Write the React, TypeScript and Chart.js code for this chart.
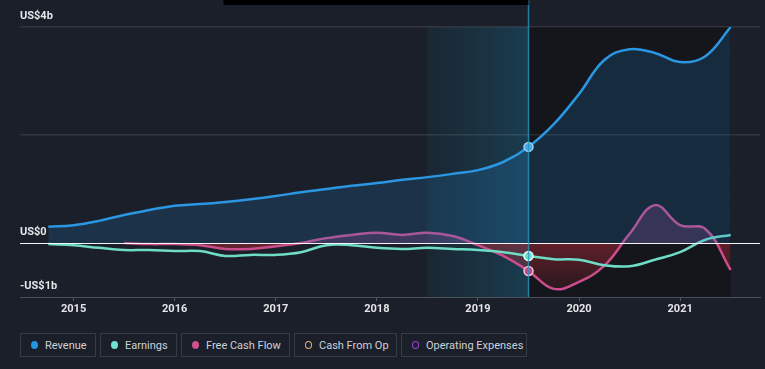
import React, { useEffect, useRef } from "react";
import { Chart, registerables } from "chart.js";

Chart.register(...registerables);

// ---- Data (values in US$ billions) ----
const quarters = [
  2014.75, 2015.0, 2015.25, 2015.5, 2015.75, 2016.0, 2016.25, 2016.5, 2016.75,
  2017.0, 2017.25, 2017.5, 2017.75, 2018.0, 2018.25, 2018.5, 2018.75, 2019.0,
  2019.25, 2019.5, 2019.75, 2020.0, 2020.25, 2020.5, 2020.75, 2021.0, 2021.25, 2021.5,
];
const revenue = [
  0.3, 0.33, 0.41, 0.52, 0.61, 0.69, 0.72, 0.76, 0.81, 0.87, 0.94, 1.0, 1.06, 1.11,
  1.17, 1.22, 1.28, 1.35, 1.5, 1.78, 2.2, 2.76, 3.39, 3.59, 3.52, 3.35, 3.46, 4.0,
];
const earnings = [
  -0.02, -0.04, -0.09, -0.13, -0.13, -0.15, -0.15, -0.24, -0.22, -0.22, -0.17, -0.04,
  -0.04, -0.09, -0.11, -0.09, -0.11, -0.13, -0.17, -0.24, -0.3, -0.31, -0.41, -0.43,
  -0.31, -0.17, 0.06, 0.15,
];
const freeCashFlow = [
  null, null, null, 0.0, -0.02, -0.02, -0.04, -0.11, -0.11, -0.06, 0.0, 0.09, 0.15,
  0.19, 0.15, 0.19, 0.13, -0.04, -0.24, -0.52, -0.85, -0.72, -0.42, 0.17, 0.7, 0.33,
  0.26, -0.5,
];
const yearTicks = [2015, 2016, 2017, 2018, 2019, 2020, 2021];
const yTickValues = [-1, 0, 2, 4];
const yTickLabels: Record<string, string> = { "4": "US$4b", "0": "US$0", "-1": "-US$1b" };
const highlightStart = 2018.5;
const focusDate = 2019.5;
const lastDate = 2021.5;

const legendItems = [
  { label: "Revenue", color: "#2394df", hollow: false, width: 76 },
  { label: "Earnings", color: "#6fe3cc", hollow: false, width: 77 },
  { label: "Free Cash Flow", color: "#d24f8f", hollow: false, width: 109 },
  { label: "Cash From Op", color: "#e6b07a", hollow: true, width: 103 },
  { label: "Operating Expenses", color: "#9a45d8", hollow: true, width: 126 },
];

const BG = "#1b1f29";
const tickFont = { family: "Roboto, 'Open Sans', sans-serif", size: 11, weight: "bold" as const };

const toXY = (vals: (number | null)[]) => quarters.map((q, i) => ({ x: q, y: vals[i] }));
const focusRadius = quarters.map((q) => (q === focusDate ? 4.5 : 0));

const decorPlugin = {
  id: "decor",
  beforeDraw(chart: any) {
    const { ctx, chartArea, scales } = chart;
    const x = scales.x;
    ctx.save();
    ctx.fillStyle = BG;
    ctx.fillRect(0, 0, chart.width, chart.height);
    const xs = x.getPixelForValue(highlightStart);
    const xf = x.getPixelForValue(focusDate);
    const xe = x.getPixelForValue(lastDate);
    ctx.fillStyle = "#14161b";
    ctx.fillRect(xf, chartArea.top, xe - xf, chartArea.bottom - chartArea.top);
    const g = ctx.createLinearGradient(xs, 0, xf, 0);
    g.addColorStop(0, "rgba(22,110,140,0.1)");
    g.addColorStop(1, "rgba(20,130,170,0.3)");
    ctx.fillStyle = g;
    ctx.fillRect(xs, chartArea.top, xf - xs, chartArea.bottom - chartArea.top);
    ctx.restore();
  },
  afterDatasetsDraw(chart: any) {
    const { ctx, chartArea, scales } = chart;
    const y0 = Math.round(scales.y.getPixelForValue(0)) + 0.5;
    ctx.save();
    ctx.strokeStyle = "rgba(255,255,255,0.95)";
    ctx.lineWidth = 1;
    ctx.beginPath();
    ctx.moveTo(chartArea.left, y0);
    ctx.lineTo(chartArea.right, y0);
    ctx.stroke();
    const xf = Math.round(scales.x.getPixelForValue(focusDate)) + 0.5;
    ctx.strokeStyle = "rgba(40,150,190,0.8)";
    ctx.lineWidth = 1.5;
    ctx.beginPath();
    ctx.moveTo(xf, 0);
    ctx.lineTo(xf, chartArea.bottom);
    ctx.stroke();
    ctx.fillStyle = "#000";
    ctx.fillRect(xf - 305, 0, 305, 5);
    ctx.restore();
  },
};

export default function App() {
  const canvasRef = useRef<HTMLCanvasElement | null>(null);

  useEffect(() => {
    const canvas = canvasRef.current;
    if (!canvas) return;
    const chart = new Chart(canvas, {
      type: "line",
      data: {
        datasets: [
          {
            label: "Revenue",
            data: toXY(revenue) as any,
            borderColor: "#2b96e2",
            backgroundColor: "rgba(35,130,205,0.2)",
            fill: "origin",
            borderWidth: 2.5,
            tension: 0.4,
            pointRadius: focusRadius,
            pointHoverRadius: focusRadius,
            pointBackgroundColor: "#4aa8e8",
            pointBorderColor: "#9fd2f5",
            pointBorderWidth: 1.5,
          },
          {
            label: "Earnings",
            data: toXY(earnings) as any,
            borderColor: "#6fdcc6",
            backgroundColor: "#6fdcc6",
            fill: false,
            borderWidth: 2.5,
            tension: 0.4,
            pointRadius: focusRadius,
            pointHoverRadius: focusRadius,
            pointBackgroundColor: "#6fe3cc",
            pointBorderColor: "#e8fffa",
            pointBorderWidth: 1.5,
          },
          {
            label: "Free Cash Flow",
            data: toXY(freeCashFlow) as any,
            borderColor: "#cc4d8c",
            backgroundColor: "#cc4d8c",
            fill: { target: "origin", above: "rgba(190,75,150,0.22)", below: "rgba(170,35,50,0.4)" },
            borderWidth: 2.5,
            tension: 0.4,
            pointRadius: focusRadius,
            pointHoverRadius: focusRadius,
            pointBackgroundColor: "#c04a88",
            pointBorderColor: "#f0c6dc",
            pointBorderWidth: 1.5,
          },
        ],
      },
      options: {
        responsive: false,
        animation: false,
        devicePixelRatio: 1,
        layout: { padding: { left: 20, right: 5, top: 27, bottom: 0 } },
        plugins: { legend: { display: false }, tooltip: { enabled: false } },
        scales: {
          x: {
            type: "linear",
            min: 2014.47,
            max: 2021.79,
            afterBuildTicks: (s: any) => {
              s.ticks = yearTicks.map((v) => ({ value: v }));
            },
            afterFit: (s: any) => {
              s.height = 23;
            },
            grid: { drawOnChartArea: false, drawTicks: true, tickLength: 4, color: "rgba(255,255,255,0.25)" },
            border: { display: true, color: "rgba(255,255,255,0.22)", width: 1 },
            ticks: {
              color: "#e4e6ea",
              font: tickFont,
              padding: 2,
              maxRotation: 0,
              autoSkip: false,
              callback: (v: any) => String(v),
            },
          },
          y: {
            type: "linear",
            min: -1,
            max: 4,
            afterBuildTicks: (s: any) => {
              s.ticks = yTickValues.map((v) => ({ value: v }));
            },
            afterFit: (s: any) => {
              s.width = 0;
            },
            grid: {
              drawTicks: false,
              lineWidth: 1.5,
              color: (c: any) => (c.tick && (c.tick.value === 4 || c.tick.value === 2) ? "rgba(255,255,255,0.1)" : "rgba(0,0,0,0)"),
            },
            border: { display: false },
            ticks: {
              mirror: true,
              padding: 0,
              labelOffset: -11,
              color: "#e4e6ea",
              font: tickFont,
              callback: (v: any) => yTickLabels[String(v)] ?? "",
            },
          },
        },
      },
      plugins: [decorPlugin],
    });
    const ys = chart.scales.y;
    const ctx = canvas.getContext("2d")!;
    const g = ctx.createLinearGradient(0, ys.getPixelForValue(0), 0, ys.getPixelForValue(-1));
    g.addColorStop(0, "rgba(175,40,55,0.5)");
    g.addColorStop(1, "rgba(175,40,55,0.08)");
    (chart.data.datasets[2] as any).fill = { target: "origin", above: "rgba(190,75,150,0.24)", below: g };
    chart.update("none");
    return () => chart.destroy();
  }, []);

  return (
    <div
      style={{
        position: "fixed",
        left: 0,
        top: 0,
        width: 765,
        height: 369,
        background: BG,
        overflow: "hidden",
        fontFamily: "Roboto, 'Open Sans', sans-serif",
      }}
    >
      <canvas ref={canvasRef} width={765} height={320} style={{ display: "block", width: 765, height: 320 }} />
      <div style={{ position: "absolute", left: 20, top: 333, display: "flex", gap: 4 }}>
        {legendItems.map((it) => (
          <div
            key={it.label}
            style={{
              boxSizing: "border-box",
              width: it.width,
              height: 24,
              border: "1px solid #353b47",
              display: "flex",
              alignItems: "center",
              paddingLeft: 10,
              color: "#cdd1d8",
              fontSize: 11,
              whiteSpace: "nowrap",
            }}
          >
            <span
              style={{
                boxSizing: "border-box",
                width: 7,
                height: 8,
                borderRadius: "50%",
                background: it.hollow ? "transparent" : it.color,
                border: it.hollow ? `1.3px solid ${it.color}` : "none",
                marginRight: 7,
                flex: "none",
              }}
            />
            {it.label}
          </div>
        ))}
      </div>
    </div>
  );
}
